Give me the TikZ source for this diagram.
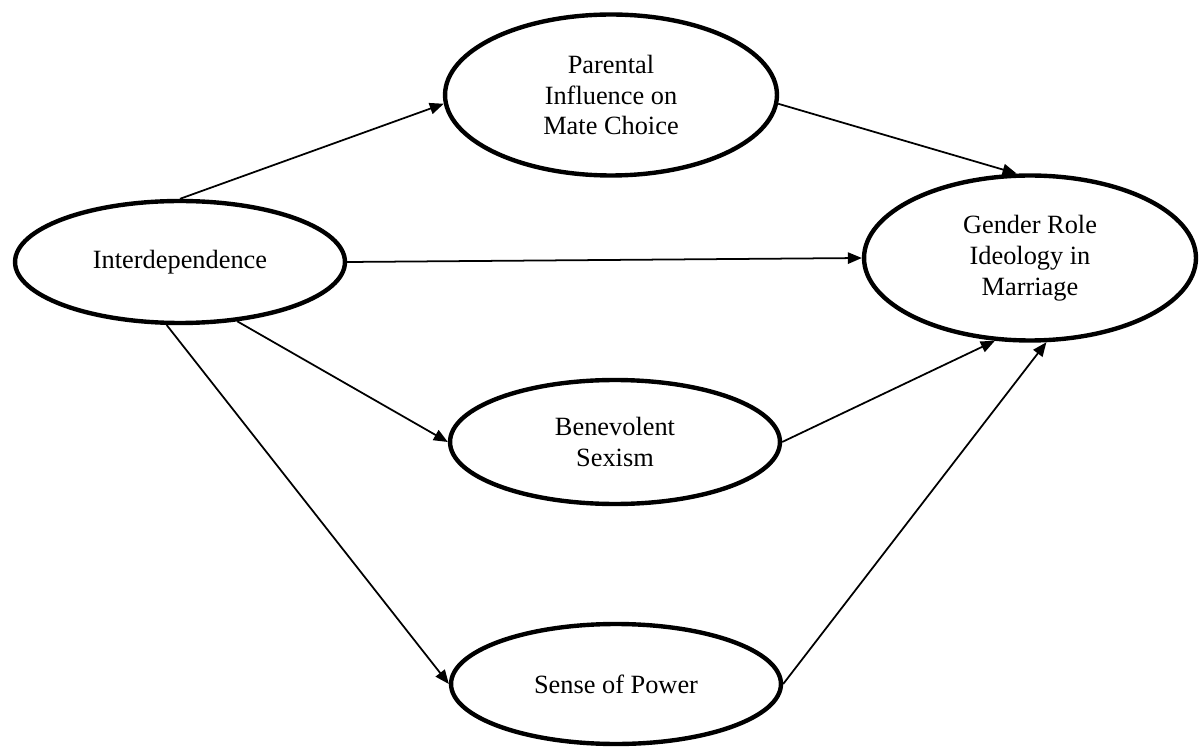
\documentclass[tikz,border=0pt]{standalone}
\usepackage{fontspec}
\setmainfont{Liberation Serif}
\usepackage{tikz}
\usetikzlibrary{arrows.meta,shapes.geometric}

\begin{document}
\begin{tikzpicture}[x=0.02cm,y=-0.02cm,every node/.style={font=\fontsize{15}{17.6}\selectfont,align=center},construct/.style={draw,ellipse,line width=2.5pt,inner sep=0pt,minimum width=6.6cm,minimum height=2.44cm},link/.style={-{Triangle[length=8pt,width=6.5pt]},line width=1pt}]
\useasboundingbox (0,0) rectangle (1199,749);
\node[construct] (inter) at (180,262) {Interdependence};
\node[construct,minimum width=6.64cm,minimum height=3.22cm] (parent) at (611,95) {Parental\\Influence on\\Mate Choice};
\node[construct,minimum width=6.64cm,minimum height=3.3cm] (gender) at (1030,258) {Gender Role\\Ideology in\\Marriage};
\node[construct,minimum height=2.48cm] (benev) at (615,442) {Benevolent\\Sexism};
\node[construct,minimum height=2.4cm] (power) at (616,684) {Sense of Power};
\draw[link] (inter.north) -- (parent.183);
\draw[link] (parent.-3) -- (gender.99);
\draw[link] (inter.east) -- (gender.west);
\draw[link] (inter.314) -- (benev.west);
\draw[link] (inter.258) -- (power.west);
\draw[link] (benev.east) -- (gender.247);
\draw[link] (power.east) -- (gender.281);
\end{tikzpicture}
\end{document}
